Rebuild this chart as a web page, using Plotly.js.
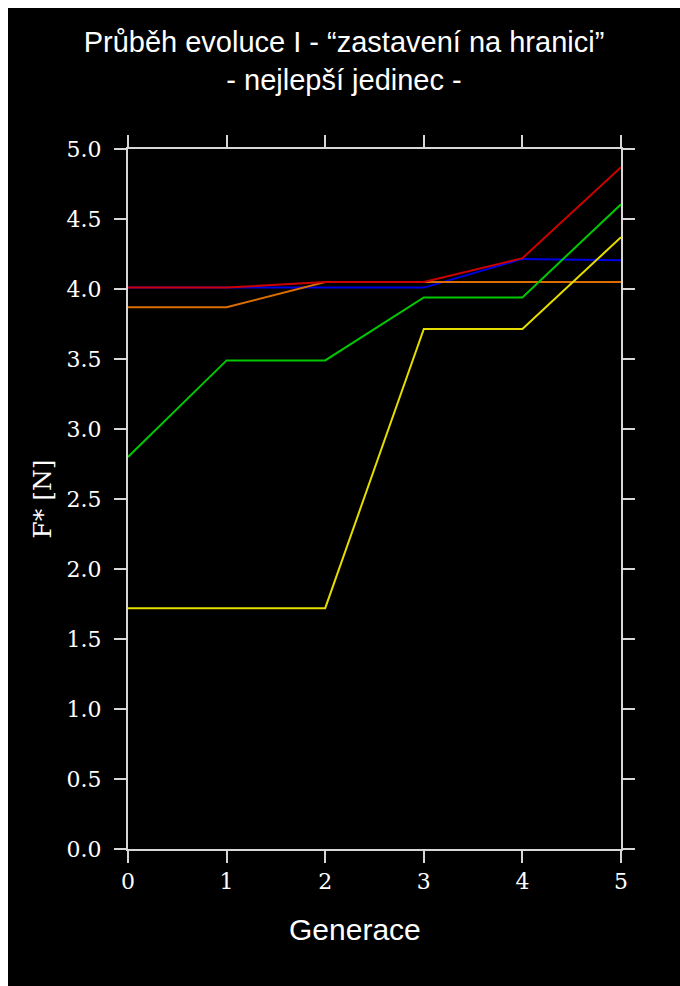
<!DOCTYPE html>
<html>
<head>
<meta charset="utf-8">
<script src="https://cdn.plot.ly/plotly-3.0.1.min.js"></script>
<style>
html, body { margin: 0; padding: 0; background: #ffffff; width: 680px; height: 986px; overflow: hidden; }
#chart { position: absolute; left: 8px; top: 8px; width: 672px; height: 978px; }
</style>
</head>
<body>
<div id="chart"></div>
<script>
// Data
const generations = [0, 1, 2, 3, 4, 5];
const blueSeries   = [4.01, 4.01, 4.01, 4.01, 4.215, 4.205];
const orangeSeries = [3.87, 3.87, 4.05, 4.05, 4.05, 4.05];
const greenSeries  = [2.80, 3.49, 3.49, 3.94, 3.94, 4.605];
const yellowSeries = [1.72, 1.72, 1.72, 3.715, 3.715, 4.37];
const redSeries    = [4.01, 4.01, 4.05, 4.05, 4.22, 4.87];

const xTickVals = [0, 1, 2, 3, 4, 5];
const xTickText = ['0', '1', '2', '3', '4', '5'];
const yTickVals = [0, 0.5, 1, 1.5, 2, 2.5, 3, 3.5, 4, 4.5, 5];
const yTickText = ['0.0', '0.5', '1.0', '1.5', '2.0', '2.5', '3.0', '3.5', '4.0', '4.5', '5.0'];

const titleText = 'Průběh evoluce I - “zastavení na hranici”<br>- nejlepší jedinec -';
const xTitle = 'Generace';
const yTitle = 'F* [N]';

function line(y, color) {
  return { x: generations, y: y, type: 'scatter', mode: 'lines',
           line: { color: color, width: 2 }, hoverinfo: 'skip' };
}

const traces = [
  line(blueSeries,   'rgb(0,0,230)'),
  line(orangeSeries, 'rgb(220,110,0)'),
  line(greenSeries,  'rgb(0,200,0)'),
  line(yellowSeries, 'rgb(230,220,0)'),
  line(redSeries,    'rgb(205,0,0)')
];

const axisColor = 'rgb(215,215,215)';
const tickFont = { family: 'DejaVu Serif', size: 22, color: '#ffffff' };

const layout = {
  width: 672, height: 978,
  paper_bgcolor: '#000000', plot_bgcolor: '#000000',
  showlegend: false,
  margin: { l: 120, r: 59, t: 141, b: 137 },
  title: {
    text: titleText,
    font: { family: 'Liberation Sans', size: 29, color: '#ffffff' },
    x: 0.5, xref: 'container', xanchor: 'center',
    y: 0.955, yref: 'container', yanchor: 'top'
  },
  annotations: [{
    text: xTitle, xref: 'paper', yref: 'paper',
    x: (355 - 128) / 493, y: -(930 - 849.5) / 700.5,
    xanchor: 'center', yanchor: 'middle', showarrow: false,
    font: { family: 'Liberation Sans', size: 30, color: '#ffffff' }
  }],
  xaxis: {
    range: [0, 5], tickvals: xTickVals, ticktext: xTickText,
    showgrid: false, zeroline: false,
    showline: true, linecolor: axisColor, linewidth: 2, mirror: 'ticks',
    ticks: 'outside', ticklen: 12, tickwidth: 2, tickcolor: axisColor,
    ticklabelstandoff: 0,
    tickfont: tickFont
  },
  yaxis: {
    range: [0, 5], tickvals: yTickVals, ticktext: yTickText,
    showgrid: false, zeroline: false,
    showline: true, linecolor: axisColor, linewidth: 2, mirror: 'ticks',
    ticks: 'outside', ticklen: 12, tickwidth: 2, tickcolor: axisColor,
    ticklabelstandoff: 8,
    tickfont: tickFont,
    title: { text: yTitle, standoff: 8,
             font: { family: 'DejaVu Serif', size: 25, color: '#ffffff' } }
  }
};

Plotly.newPlot('chart', traces, layout, { displayModeBar: false, staticPlot: true });
</script>
</body>
</html>
